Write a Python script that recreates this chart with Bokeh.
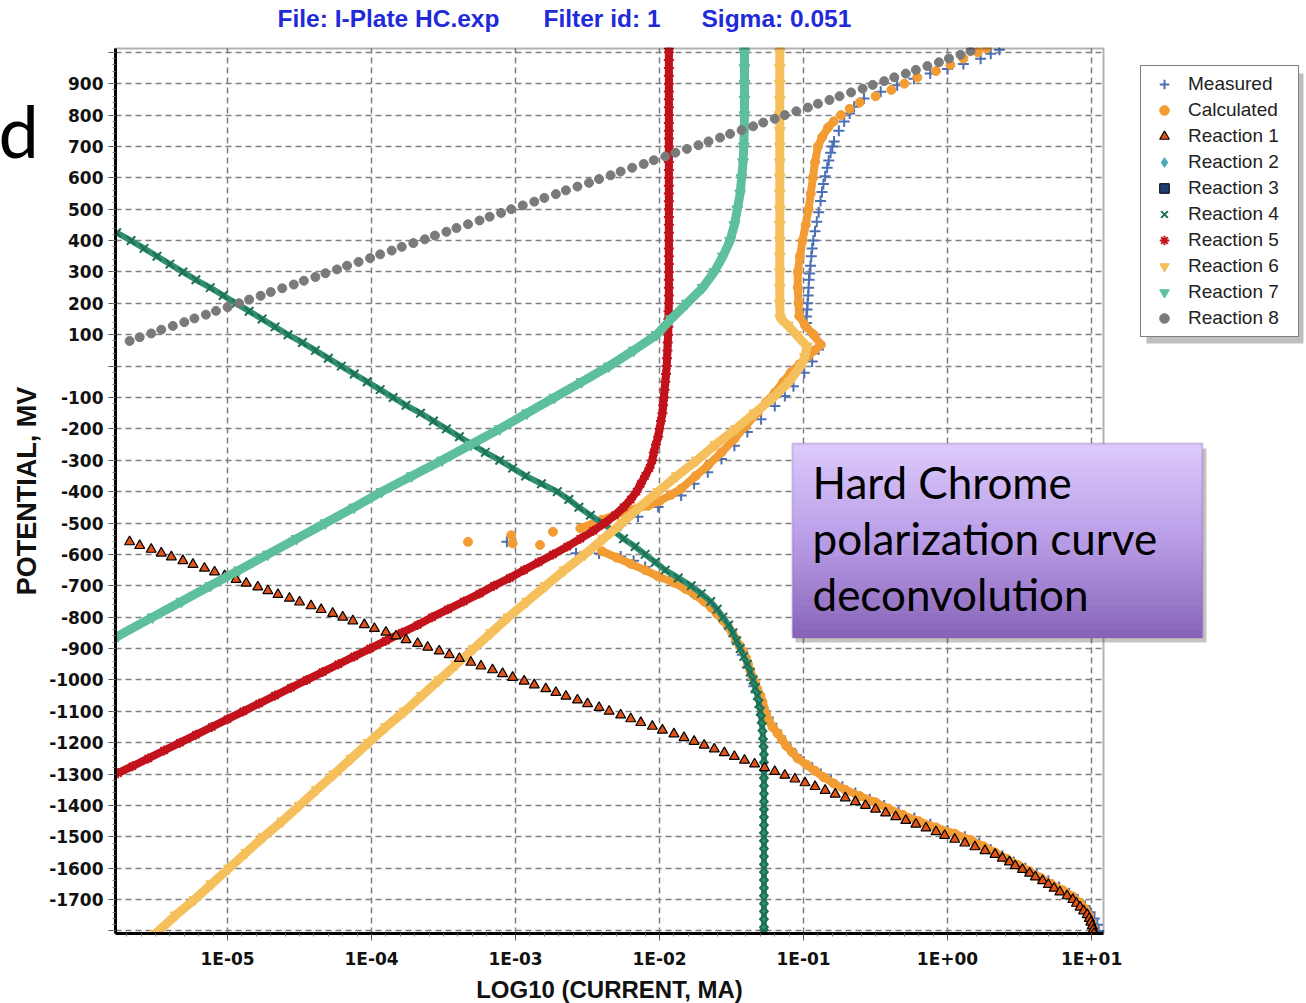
from bokeh.plotting import figure
from bokeh.models import Range1d, FixedTicker, Legend, LegendItem, Label, BoxAnnotation, Grid
from bokeh.embed import file_html
from bokeh.resources import INLINE

NAN = float("nan")

# ---------------- data (x = log10 current in mA, y = potential in mV) ----------------
x_ticks = [-5, -4, -3, -2, -1, 0, 1]
x_tick_labels = ["1E-05", "1E-04", "1E-03", "1E-02", "1E-01", "1E+00", "1E+01"]
y_ticks = list(range(-1800, 1001, 100))

meas_cath_E = [-1800, -1780, -1760, -1740, -1720, -1700, -1680, -1660, -1640, -1620, -1600, -1580, -1560, -1540,
               -1520, -1500, -1480, -1460, -1440, -1420, -1400, -1380, -1360, -1340, -1320, -1300, -1280, -1260,
               -1240, -1220, -1200, -1180, -1160, -1140, -1120, -1100, -1080, -1060, -1040, -1020, -1000, -960,
               -920, -880, -840, -800, -760, -720, -680, -640, -620, -607, -597, -596]
meas_cath_I = [1.05, 1.04, 1.02, 0.99, 0.955, 0.905, 0.845, 0.775, 0.70, 0.62, 0.54, 0.46, 0.38, 0.30,
               0.22, 0.12, 0.0, -0.12, -0.23, -0.34, -0.44, -0.54, -0.64, -0.73, -0.81, -0.88, -0.94, -1.00,
               -1.05, -1.09, -1.13, -1.16, -1.19, -1.22, -1.245, -1.27, -1.29, -1.31, -1.33, -1.345, -1.36, -1.39,
               -1.425, -1.465, -1.51, -1.57, -1.65, -1.78, -1.93, -2.10, -2.18, -2.27, -2.42, -2.58]
meas_anod_E = [-560, -507, -480, -449, -412, -375, -338, -296, -254, -210, -169, -127, -95, -64, -21, 15, 53,
               100, 137, 158, 180, 200, 225, 250, 275, 295, 320, 350, 375, 400, 430, 460, 490, 526, 555, 580,
               605, 632, 655, 680, 700, 716, 750, 779, 805, 826, 853, 874, 895, 916, 932, 947, 963, 979, 995, 1008]
meas_anod_I = [-3.06, -2.27, -2.15, -2.01, -1.85, -1.76, -1.665, -1.57, -1.48, -1.39, -1.295, -1.20, -1.13, -1.07,
               -0.995, -0.94, -0.896, -0.93, -0.98, -0.98, -0.975, -0.972, -0.968, -0.965, -0.962, -0.958, -0.952,
               -0.946, -0.94, -0.932, -0.92, -0.908, -0.895, -0.882, -0.872, -0.862, -0.85, -0.836, -0.825, -0.812,
               -0.80, -0.788, -0.755, -0.718, -0.68, -0.649, -0.58, -0.464, -0.35, -0.233, -0.12, 0.0, 0.11, 0.23,
               0.30, 0.36]

calc_cath_E = [-1808, -1790, -1770, -1750, -1730, -1710, -1690, -1670, -1650, -1630, -1610, -1590, -1570, -1550,
               -1530, -1510, -1490, -1470, -1450, -1430, -1410, -1390, -1370, -1350, -1330, -1310, -1290, -1270,
               -1250, -1230, -1210, -1190, -1170, -1150, -1130, -1110, -1090, -1070, -1050, -1030, -1010, -990,
               -970, -950, -930, -910, -890, -870, -850, -830, -810, -790, -770, -750, -730, -710, -690, -670,
               -650, -630, -610, -590]
calc_cath_I = [1.02, 1.012, 0.995, 0.98, 0.955, 0.92, 0.87, 0.80, 0.72, 0.645, 0.57, 0.49, 0.41, 0.33,
               0.25, 0.16, 0.05, -0.08, -0.20, -0.31, -0.41, -0.50, -0.61, -0.71, -0.79, -0.86, -0.92, -0.98,
               -1.04, -1.08, -1.12, -1.15, -1.18, -1.215, -1.24, -1.26, -1.275, -1.285, -1.30, -1.32, -1.335, -1.355,
               -1.37, -1.385, -1.40, -1.42, -1.445, -1.47, -1.495, -1.525, -1.56, -1.60, -1.64, -1.69, -1.75, -1.82,
               -1.90, -2.01, -2.10, -2.20, -2.30, -2.40]
calc_scatter_E = [-560, -539, -565, -570, -528]
calc_scatter_I = [-3.33, -3.03, -3.02, -2.83, -2.74]
calc_anod_E = [-517, -490, -460, -445, -430, -410, -391, -350, -317, -275, -232, -190, -148, -115, -85, -50, -21,
               5, 31, 50, 68, 100, 130, 160, 200, 250, 300, 350, 400, 450, 500, 550, 600, 650, 700, 730, 760, 780,
               800, 820, 840, 860, 880, 900, 920, 940, 960, 980, 1000, 1012]
calc_anod_I = [-2.55, -2.40, -2.22, -2.08, -2.00, -1.92, -1.85, -1.75, -1.665, -1.57, -1.48, -1.40, -1.32, -1.26,
               -1.20, -1.14, -1.09, -1.03, -0.97, -0.925, -0.88, -0.93, -0.99, -1.03, -1.035, -1.04, -1.04, -1.025,
               -1.007, -0.985, -0.965, -0.95, -0.935, -0.92, -0.90, -0.87, -0.83, -0.79, -0.74, -0.68, -0.61, -0.50,
               -0.39, -0.30, -0.21, -0.08, 0.02, 0.11, 0.21, 0.27]

r1_E = [-560, -572, -584, -596, -608, -620, -632, -644, -656, -668, -680, -692, -704, -716, -728, -740, -752,
        -764, -776, -788, -800, -812, -824, -836, -848, -860, -872, -884, -896, -908, -920, -932, -944, -956,
        -968, -980, -992, -1004, -1016, -1028, -1040, -1052, -1064, -1076, -1088, -1100, -1112, -1124, -1136,
        -1148, -1160, -1172, -1184, -1196, -1208, -1220, -1232, -1244, -1256, -1268, -1280, -1292, -1304,
        -1316, -1328, -1340, -1352, -1364, -1376, -1388, -1400, -1412, -1424, -1436, -1448, -1460, -1472,
        -1484, -1496, -1508, -1520, -1532, -1544, -1556, -1568, -1580, -1592, -1604, -1616, -1628, -1640,
        -1652, -1664, -1676, -1688, -1700, -1712, -1724, -1736, -1748, -1760, -1772, -1784, -1796, -1808]
r1_I = [-5.68, -5.61, -5.53, -5.46, -5.39, -5.31, -5.24, -5.16, -5.09, -5.02, -4.94, -4.87, -4.79, -4.72,
        -4.65, -4.57, -4.50, -4.42, -4.35, -4.27, -4.20, -4.13, -4.05, -3.98, -3.90, -3.83, -3.76, -3.68,
        -3.61, -3.53, -3.46, -3.39, -3.31, -3.24, -3.16, -3.09, -3.02, -2.94, -2.87, -2.79, -2.72, -2.65,
        -2.57, -2.50, -2.42, -2.35, -2.27, -2.20, -2.13, -2.05, -1.98, -1.90, -1.83, -1.76, -1.69, -1.62,
        -1.55, -1.48, -1.41, -1.34, -1.27, -1.20, -1.13, -1.06, -0.99, -0.92, -0.85, -0.78, -0.71, -0.64,
        -0.57, -0.50, -0.43, -0.36, -0.29, -0.22, -0.15, -0.08, -0.02, 0.05, 0.12, 0.19, 0.26, 0.33, 0.38,
        0.43, 0.47, 0.52, 0.57, 0.61, 0.66, 0.70, 0.74, 0.78, 0.83, 0.87, 0.895, 0.92, 0.945, 0.97, 0.985,
        0.995, 1.005, 1.012, 1.018]

# Reactions 2 and 3 are listed in the legend but show no visible points in the chart
r2_E, r2_I = [NAN], [NAN]
r3_E, r3_I = [NAN], [NAN]

r4_E = [425, 400, 375, 350, 325, 300, 275, 250, 225, 200, 175, 150, 125, 100, 75, 50, 25, 0, -25, -50, -75,
        -100, -125, -150, -175, -200, -225, -250, -275, -300, -325, -350, -375, -400, -425, -450, -475, -500,
        -525, -550, -575, -600, -625, -650, -675, -700, -725, -750, -775, -800, -825, -850, -875, -900, -925,
        -950, -975, -1000, -1025, -1050, -1075, -1100, -1125, -1150, -1175, -1200, -1225, -1250, -1275, -1300,
        -1325, -1350, -1375, -1400, -1425, -1450, -1475, -1500, -1525, -1550, -1575, -1600, -1625, -1650,
        -1675, -1700, -1725, -1750, -1775, -1800, -1808]
r4_I = [-5.77, -5.67, -5.58, -5.49, -5.40, -5.31, -5.22, -5.12, -5.03, -4.94, -4.85, -4.76, -4.67, -4.58,
        -4.48, -4.39, -4.30, -4.21, -4.12, -4.03, -3.94, -3.85, -3.76, -3.66, -3.57, -3.48, -3.39, -3.30, -3.21,
        -3.11, -3.02, -2.93, -2.82, -2.71, -2.63, -2.56, -2.48, -2.40, -2.32, -2.25, -2.17, -2.10, -2.03, -1.96,
        -1.87, -1.78, -1.71, -1.645, -1.60, -1.56, -1.52, -1.49, -1.465, -1.44, -1.415, -1.39, -1.37, -1.35,
        -1.335, -1.32, -1.31, -1.30, -1.293, -1.287, -1.283, -1.28, -1.275, -1.275, -1.275, -1.275, -1.275,
        -1.275, -1.275, -1.275, -1.275, -1.275, -1.275, -1.275, -1.275, -1.275, -1.275, -1.275, -1.275, -1.275,
        -1.275, -1.275, -1.275, -1.275, -1.275, -1.275, -1.275]

r5_E = [-1297, -1275, -1250, -1225, -1200, -1175, -1150, -1125, -1100, -1075, -1050, -1025, -1000, -975, -950,
        -925, -900, -875, -850, -825, -800, -775, -750, -725, -700, -675, -650, -625, -600, -575, -550, -525,
        -500, -475, -450, -425, -400, -375, -350, -325, -300, -275, -250, -225, -200, -175, -150, -125, -100,
        -75, -50, -25, 0, 25, 50, 75, 100, 125, 150, 175, 200, 225, 250, 275, 300, 325, 350, 375, 400, 425,
        450, 475, 500, 525, 550, 575, 600, 625, 650, 675, 700, 725, 750, 775, 800, 825, 850, 875, 900, 925,
        950, 975, 1000, 1012]
r5_I = [-5.76, -5.66, -5.55, -5.44, -5.33, -5.22, -5.11, -5.00, -4.89, -4.78, -4.67, -4.56, -4.45, -4.34, -4.23,
        -4.12, -4.01, -3.90, -3.79, -3.68, -3.58, -3.47, -3.36, -3.25, -3.15, -3.04, -2.94, -2.84, -2.74, -2.64,
        -2.55, -2.46, -2.38, -2.31, -2.25, -2.20, -2.16, -2.13, -2.10, -2.07, -2.05, -2.04, -2.025, -2.01, -2.00,
        -1.99, -1.98, -1.975, -1.97, -1.965, -1.96, -1.955, -1.95, -1.948, -1.945, -1.943, -1.94, -1.939, -1.938,
        -1.937, -1.936, -1.935, -1.935, -1.935, -1.935, -1.935, -1.935, -1.935, -1.935, -1.935, -1.935, -1.935,
        -1.935, -1.935, -1.935, -1.935, -1.935, -1.935, -1.935, -1.935, -1.935, -1.935, -1.935, -1.935, -1.935,
        -1.935, -1.935, -1.935, -1.935, -1.935, -1.935, -1.935, -1.935, -1.935]

r6_E = [-1808, -1750, -1700, -1650, -1600, -1550, -1500, -1450, -1400, -1350, -1300, -1250, -1200, -1150, -1100,
        -1050, -1000, -950, -900, -850, -800, -750, -700, -650, -600, -550, -500, -450, -400, -350, -300, -250,
        -200, -150, -100, -50, 0, 30, 63, 100, 130, 153, 200, 250, 300, 350, 400, 450, 500, 550, 600, 650, 700,
        750, 800, 850, 900, 950, 1000, 1012]
r6_I = [-5.50, -5.36, -5.23, -5.11, -4.99, -4.87, -4.75, -4.62, -4.50, -4.38, -4.26, -4.14, -4.02, -3.90, -3.77,
        -3.65, -3.53, -3.41, -3.29, -3.17, -3.05, -2.92, -2.79, -2.66, -2.52, -2.39, -2.26, -2.14, -2.01, -1.88,
        -1.74, -1.61, -1.47, -1.34, -1.21, -1.10, -1.02, -0.99, -0.977, -1.05, -1.11, -1.162, -1.165, -1.165,
        -1.165, -1.165, -1.165, -1.165, -1.165, -1.165, -1.165, -1.165, -1.165, -1.165, -1.165, -1.165, -1.165,
        -1.165, -1.165, -1.165]

r7_E = [-860, -800, -750, -700, -650, -600, -550, -500, -450, -400, -350, -300, -250, -200, -150, -100, -50, 0,
        50, 100, 150, 200, 250, 300, 350, 400, 450, 500, 550, 600, 650, 700, 750, 800, 850, 900, 950, 1000, 1012]
r7_I = [-5.76, -5.52, -5.32, -5.12, -4.92, -4.72, -4.52, -4.32, -4.12, -3.93, -3.72, -3.51, -3.31, -3.11, -2.92,
        -2.73, -2.54, -2.35, -2.18, -2.02, -1.92, -1.81, -1.70, -1.62, -1.56, -1.51, -1.48, -1.46, -1.44, -1.43,
        -1.42, -1.415, -1.412, -1.41, -1.41, -1.41, -1.41, -1.41, -1.41]

r8_E = [80, 92, 104, 116, 128, 140, 152, 164, 176, 188, 200, 212, 224, 236, 248, 260, 272, 284, 296, 308, 320,
        332, 344, 356, 368, 380, 392, 404, 416, 428, 440, 452, 464, 476, 488, 500, 512, 524, 536, 548, 560, 572,
        584, 596, 608, 620, 632, 644, 656, 668, 680, 692, 704, 716, 728, 740, 752, 764, 776, 788, 800, 812, 824,
        836, 848, 860, 872, 884, 896, 908, 920, 932, 944, 956, 968, 980, 992, 1004]
r8_I = [-5.68, -5.61, -5.53, -5.46, -5.38, -5.30, -5.23, -5.15, -5.08, -5.00, -4.92, -4.85, -4.77, -4.70, -4.62,
        -4.54, -4.47, -4.39, -4.32, -4.24, -4.17, -4.09, -4.01, -3.94, -3.86, -3.79, -3.71, -3.63, -3.56, -3.48,
        -3.41, -3.33, -3.25, -3.18, -3.10, -3.03, -2.95, -2.87, -2.80, -2.72, -2.65, -2.57, -2.49, -2.42, -2.34,
        -2.27, -2.19, -2.11, -2.04, -1.96, -1.89, -1.81, -1.73, -1.66, -1.58, -1.51, -1.43, -1.35, -1.28, -1.20,
        -1.13, -1.05, -0.97, -0.90, -0.82, -0.75, -0.67, -0.59, -0.52, -0.44, -0.37, -0.29, -0.22, -0.14, -0.06,
        0.01, 0.09, 0.16]

# ---------------- geometry ----------------
W, H = 1306, 1003
FL, FR, FT, FB = 115, 1103, 48, 933          # chart box on the page (px)
XL, XR, YB, YT = -5.778, 1.083, -1808, 1012   # chart box in data units
kx = (XR - XL) / (FR - FL)
ky = (YT - YB) / (FB - FT)
# the Bokeh frame covers the whole page; axes are pinned to the chart box
x_range = Range1d(XL - FL * kx, XR + (W - FR) * kx)
y_range = Range1d(YB - (H - FB) * ky, YT + FT * ky)


def sx(px):
    return px


def sy(py):
    return H - py


p = figure(width=W, height=H, title=None, output_backend="svg", toolbar_location=None,
           x_range=x_range, y_range=y_range)
p.min_border = 0
p.min_border_left = 0
p.min_border_right = 0
p.min_border_top = 0
p.min_border_bottom = 0
p.background_fill_color = "white"
p.border_fill_color = "white"
p.outline_line_color = None

x_minor = [round(t + k / 10, 2) for t in range(-6, 2) for k in range(1, 10)]
p.xaxis.ticker = FixedTicker(ticks=x_ticks, minor_ticks=[v for v in x_minor if XL <= v <= XR])
p.xaxis.major_label_overrides = {t: s for t, s in zip(x_ticks, x_tick_labels)}
p.yaxis.ticker = FixedTicker(ticks=y_ticks, minor_ticks=list(range(-1800, 1001, 20)))
p.yaxis.major_label_overrides = {v: ("" if v in (0, -1800, 1000) else str(v)) for v in y_ticks}
p.xaxis.fixed_location = YB
p.yaxis.fixed_location = XL
p.xaxis.bounds = (XL, XR)
p.yaxis.bounds = (YB, YT)

for ax in (p.xaxis[0], p.yaxis[0]):
    ax.level = "overlay"
    ax.axis_line_width = 3
    ax.axis_line_color = "black"
    ax.major_tick_out = 7
    ax.major_tick_in = 0
    ax.minor_tick_out = 3
    ax.minor_tick_in = 0
    ax.major_tick_line_color = "#555555"
    ax.minor_tick_line_color = "#777777"
    ax.major_label_text_font = "DejaVu Sans"
    ax.major_label_text_font_style = "bold"
    ax.major_label_text_font_size = "17px"
    ax.major_label_text_color = "#111111"
    ax.axis_label_text_font = "Liberation Sans"
    ax.axis_label_text_font_style = "bold"
    ax.axis_label_text_color = "#111111"
p.xaxis.major_label_standoff = 8
p.yaxis.major_label_standoff = 5
p.xaxis.axis_label = "LOG10 (CURRENT, MA)"
p.xaxis.axis_label_text_font_size = "24px"
p.xaxis.axis_label_standoff = 4
p.yaxis.axis_label = "POTENTIAL, MV"
p.yaxis.axis_label_text_font_size = "27px"
p.yaxis.axis_label_standoff = 4

GRID_COLOR, GRID_DASH = "#7f7f7f", "6 4"
if "cross_bounds" in Grid.properties():
    for g, cb in ((p.xgrid[0], (YB, YT)), (p.ygrid[0], (XL, XR))):
        g.cross_bounds = cb
        g.grid_line_color = GRID_COLOR
        g.grid_line_dash = GRID_DASH
        g.grid_line_width = 1.5
else:
    p.xgrid.visible = False
    p.ygrid.visible = False
    p.segment(x0=x_ticks, y0=[YB] * len(x_ticks), x1=x_ticks, y1=[YT] * len(x_ticks),
              line_color=GRID_COLOR, line_dash=GRID_DASH, line_width=1.5, level="underlay")
    p.segment(x0=[XL] * len(y_ticks), y0=y_ticks, x1=[XR] * len(y_ticks), y1=y_ticks,
              line_color=GRID_COLOR, line_dash=GRID_DASH, line_width=1.5, level="underlay")

# ---------------- series ----------------
C_MEAS, C_CALC = "#4a6fb5", "#f39c34"
C_R1F, C_R2, C_R3 = "#e2531a", "#4ba7b5", "#1f3d6e"
C_R4, C_R4L, C_R5, C_R6, C_R7, C_R8 = "#1d6e55", "#2f8f72", "#c2121c", "#f5c05c", "#5dbf9b", "#7a7a7a"

s_meas = p.scatter(meas_cath_I + meas_anod_I, meas_cath_E + meas_anod_E, marker="cross", size=11,
                   line_color=C_MEAS, line_width=2)
p.line(calc_cath_I, calc_cath_E, line_color=C_CALC, line_width=8)
p.line(calc_anod_I[:38], calc_anod_E[:38], line_color=C_CALC, line_width=8)
s_calc = p.scatter(calc_cath_I + calc_scatter_I + calc_anod_I, calc_cath_E + calc_scatter_E + calc_anod_E,
                   marker="circle", size=9, fill_color=C_CALC, line_color=C_CALC)
s_r2 = p.scatter(r2_I, r2_E, marker="diamond", size=11, fill_color=C_R2, line_color=C_R2)
s_r3 = p.scatter(r3_I, r3_E, marker="square", size=8, fill_color=C_R3, line_color="black")
p.line(r4_I, r4_E, line_color=C_R4L, line_width=6)
s_r4 = p.scatter(r4_I, r4_E, marker="x", size=12, line_color=C_R4, line_width=2)
p.line(r6_I, r6_E, line_color=C_R6, line_width=9)
s_r6 = p.scatter(r6_I, r6_E, marker="inverted_triangle", size=11, fill_color=C_R6, line_color=C_R6)
p.line(r5_I, r5_E, line_color=C_R5, line_width=8)
s_r5 = p.scatter(r5_I, r5_E, marker="asterisk", size=10, line_color=C_R5, line_width=2)
s_r1 = p.scatter(r1_I, r1_E, marker="triangle", size=10, fill_color=C_R1F, line_color="black", line_width=1.2)
p.line(r7_I, r7_E, line_color=C_R7, line_width=9)
s_r7 = p.scatter(r7_I, r7_E, marker="inverted_triangle", size=11, fill_color=C_R7, line_color=C_R7)
s_r8 = p.scatter(r8_I, r8_E, marker="circle", size=9, fill_color=C_R8, line_color=C_R8)


def box(l, r, t, b, **kw):
    ba = BoxAnnotation(left=sx(l), right=sx(r), top=sy(t), bottom=sy(b),
                       left_units="screen", right_units="screen", top_units="screen", bottom_units="screen", **kw)
    p.add_layout(ba)
    return ba


def text(txt, x, baseline, size, **kw):
    # Bokeh places the alphabetic baseline ~0.42 em below the given y; compensate
    p.add_layout(Label(x=sx(x), y=sy(baseline - 0.42 * size), x_units="screen", y_units="screen", text=txt,
                       text_font_size="%spx" % size, text_baseline="alphabetic", **kw))


# white masks outside the chart box (the page margins)
for l, r, t, b in ((0, FL - 1, 0, H), (FR + 1, W, 0, H), (0, W, 0, FT - 1), (0, W, FB + 1, H)):
    box(l, r, t, b, fill_color="white", fill_alpha=1.0, line_color=None)
# chart border
box(FL, FR, FT, FB, fill_alpha=0.0, line_color="black", line_width=2)

# ---------------- legend ----------------
box(1146, 1303, 73, 343, fill_color="#8a8a8a", fill_alpha=0.55, line_color=None)
legend = Legend(items=[LegendItem(label="Measured", renderers=[s_meas]),
                       LegendItem(label="Calculated", renderers=[s_calc]),
                       LegendItem(label="Reaction 1", renderers=[s_r1]),
                       LegendItem(label="Reaction 2", renderers=[s_r2]),
                       LegendItem(label="Reaction 3", renderers=[s_r3]),
                       LegendItem(label="Reaction 4", renderers=[s_r4]),
                       LegendItem(label="Reaction 5", renderers=[s_r5]),
                       LegendItem(label="Reaction 6", renderers=[s_r6]),
                       LegendItem(label="Reaction 7", renderers=[s_r7]),
                       LegendItem(label="Reaction 8", renderers=[s_r8])],
                location=(sx(1140), sy(337)), orientation="vertical",
                border_line_color="black", border_line_width=1.5, background_fill_color="white",
                background_fill_alpha=1.0, label_text_font="Liberation Sans", label_text_font_size="19px",
                label_text_color="#222222", glyph_width=34, glyph_height=24, label_height=24, label_width=104,
                spacing=2, padding=6, margin=0, label_standoff=7)
p.add_layout(legend)

# ---------------- title pieces ----------------
for txt, xx in (("File: I-Plate HC.exp", 277), ("Filter id: 1", 543), ("Sigma: 0.051", 701)):
    text(txt, xx, 28, 24.5, text_font="Liberation Sans", text_font_style="bold", text_color="#1f2ad8")

# ---------------- callout box ----------------
bx0, bx1, by0, by1 = 792, 1202, 443, 637
box(bx0 + 3, bx1 + 4, by0 + 5, by1 + 5, fill_color="#555555", fill_alpha=0.35, line_color=None)
stops = [(0xDC, 0xCB, 0xFC), (0xB9, 0x9C, 0xE6), (0x87, 0x63, 0xB8)]
n_strips = 24
sh = (by1 - by0) / n_strips
for i in range(n_strips):
    t = (i + 0.5) / n_strips
    a, b, u = (stops[0], stops[1], t / 0.5) if t <= 0.5 else (stops[1], stops[2], (t - 0.5) / 0.5)
    col = "#%02x%02x%02x" % tuple(int(round(a[k] + (b[k] - a[k]) * u)) for k in range(3))
    box(bx0, bx1, by0 + i * sh, by0 + (i + 1) * sh + 0.6, fill_color=col, fill_alpha=1.0, line_color=None)
box(bx0, bx1, by0, by1, fill_alpha=0.0, line_color="#7a5aa8", line_width=2)
for txt, base in (("Hard Chrome", 500), ("polarization curve", 556), ("deconvolution", 612)):
    text(txt, 812, base, 44, text_font="Lato", text_color="black")

# slide fragment at the left edge
text("d", -2, 160, 72, text_font="Lato", text_color="black")

open("out.html", "w").write(file_html(p, INLINE))
